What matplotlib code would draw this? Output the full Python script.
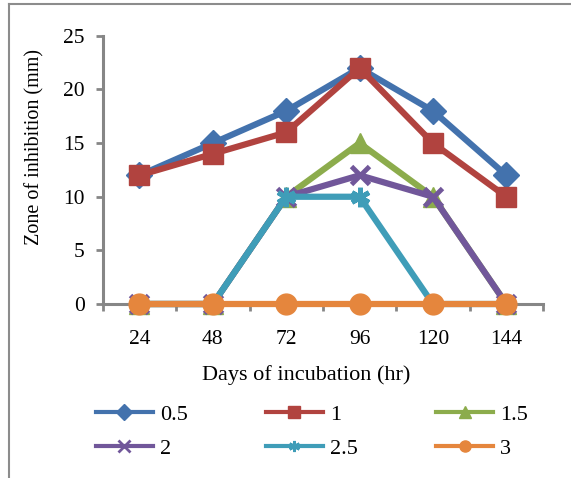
import numpy as np
import matplotlib.pyplot as plt
from matplotlib.lines import Line2D

# data
days = ['24', '48', '72', '96', '120', '144']
conc = ['0.5', '1', '1.5', '2', '2.5', '3']
z_05 = [12, 15, 18, 22, 18, 12]
z_1 = [12, 14, 16, 22, 15, 10]
z_15 = [0, 0, 10, 15, 10, 0]
z_2 = [0, 0, 10, 12, 10, 0]
z_25 = [0, 0, 10, 10, 0, 0]
z_3 = [0, 0, 0, 0, 0, 0]

series = [z_05, z_1, z_15, z_2, z_25, z_3]
colors = ['#4372AD', '#B1433F', '#8CAC4C', '#71579A', '#3F9DB8', '#E5863D']
markers = ['D', 's', '^', 'x', (6, 2, 0), 'o']
msizes = [13, 15, 14, 13, 14, 15]

plt.rcParams['font.family'] = ['Liberation Serif', 'DejaVu Serif']

fig = plt.figure(figsize=(5.71, 4.78), dpi=100)
ax = fig.add_axes([0.180, 0.364, 0.771, 0.561])

x = np.arange(len(days))
for vals, c, m, ms in zip(series, colors, markers, msizes):
    mew = 3.5 if m in ('x', (6, 2, 0)) else 1
    ax.plot(x, vals, color=c, lw=4.5, marker=m, ms=ms, mfc=c, mec=c,
            mew=mew, clip_on=False, solid_joinstyle='round', zorder=3)

ax.set_xlim(-0.5, 5.5)
ax.set_ylim(0, 25)
ax.set_yticks(range(0, 26, 5))
ax.set_xticks(x)
ax.set_xticklabels(days)
ax.set_xticks(np.arange(-0.5, 6, 1), minor=True)
ax.tick_params(axis='x', which='major', length=0, pad=19, labelsize=15.5)
ax.tick_params(axis='x', which='minor', length=5, width=2, color='#868686', direction='out')
ax.tick_params(axis='y', length=5, width=2, color='#868686', direction='out', pad=8, labelsize=15.5)

for s in ['top', 'right']:
    ax.spines[s].set_visible(False)
for s in ['left', 'bottom']:
    ax.spines[s].set_color('#868686')
    ax.spines[s].set_linewidth(2.2)

ax.set_ylabel('Zone of inhibition (mm)', fontsize=14.5)
ax.yaxis.set_label_coords(-0.132, 0.586)
ax.set_xlabel('Days of incubation (hr)', fontsize=16)
ax.xaxis.set_label_coords(0.461, -0.228)

# legend, filled row by row
handles = []
for c, m in zip(colors, markers):
    mew = 2 if m in ('x', (6, 2, 0)) else 1
    handles.append(Line2D([], [], color=c, lw=3, marker=m, ms=8, mfc=c, mec=c, mew=mew))
order = [0, 3, 1, 4, 2, 5]
fig.legend([handles[i] for i in order], [conc[i] for i in order],
           ncol=3, loc='center', bbox_to_anchor=(0.546, 0.097), frameon=False,
           fontsize=16, handlelength=2.6, columnspacing=3.5, labelspacing=0.58,
           handletextpad=0.3)

# outer frame (top and left edges visible)
fig.add_artist(Line2D([0.016, 0.016], [0, 0.991], color='#8c8c8c', lw=1.5))
fig.add_artist(Line2D([0.016, 1.0], [0.991, 0.991], color='#8c8c8c', lw=1.5))

fig.savefig('out.png', dpi=100)
